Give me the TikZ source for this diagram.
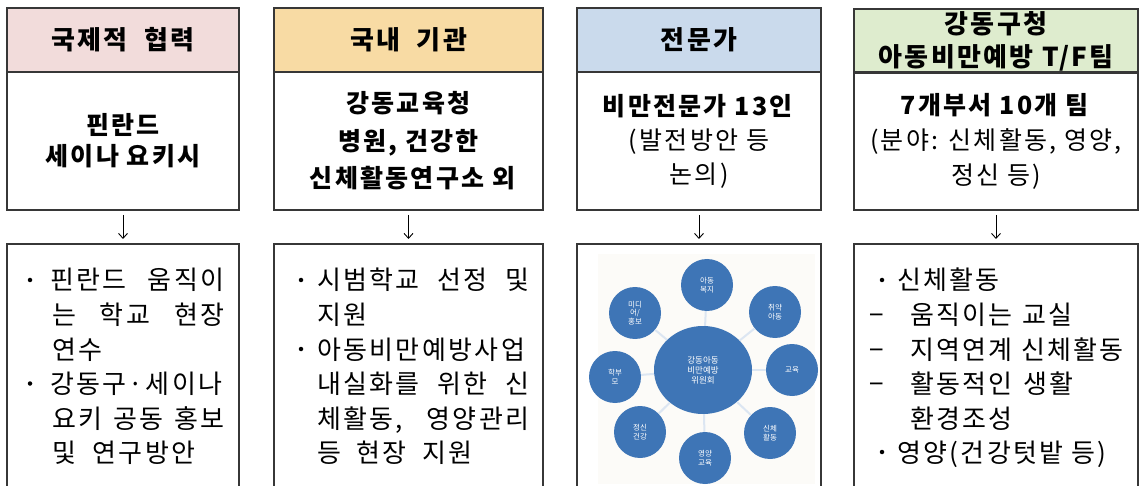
\documentclass[tikz,border=0pt]{standalone}
\usepackage{fontspec}
\setmainfont{Noto Sans CJK KR}[LetterSpace=9]
\usetikzlibrary{arrows.meta,shapes.geometric}
\definecolor{hpink}{RGB}{242,220,219}
\definecolor{htan}{RGB}{248,219,164}
\definecolor{hblue}{RGB}{202,218,236}
\definecolor{hgreen}{RGB}{222,236,206}
\definecolor{cblue}{RGB}{62,117,182}
\definecolor{bord}{RGB}{55,55,55}
\definecolor{cream}{RGB}{252,251,248}
\begin{document}
\begin{tikzpicture}[x=1pt,y=-1pt,
  box/.style={draw=bord,line width=1.1pt,inner sep=0pt,outer sep=0pt,align=center},
  hfont/.style={font=\fontsize{26}{33}\selectfont\bfseries},
  ln/.style={anchor=base west,inner sep=0pt,font=\fontsize{26}{30}\selectfont},
  bul/.style={circle,fill=black,inner sep=0pt,minimum size=4.5pt},
  arr/.style={draw=black,line width=0.9pt,-{Straight Barb[length=5pt,width=9pt]}},
  sat/.style={circle,fill=cblue,minimum size=52pt,inner sep=0pt,text=white,align=center,font=\fontsize{7.5}{8.5}\selectfont\addfontfeatures{LetterSpace=0}},
  spoke/.style={draw=cblue!18,line width=2pt}]
\useasboundingbox (0,0) rectangle (1143,486);
\fill[white] (0,0) rectangle (1143,486);

% headers
\node[box,fill=hpink,minimum width=232pt,minimum height=64pt,hfont] (h1) at (123,40) {국제적 \ 협력};
\node[box,fill=htan,minimum width=269pt,minimum height=64pt,hfont] (h2) at (408.5,40) {국내 \ 기관};
\node[box,fill=hblue,minimum width=244pt,minimum height=64pt,hfont] (h3) at (699,40) {전문가};
\node[box,fill=hgreen,minimum width=284pt,minimum height=64pt,hfont] (h4) at (996,41) {강동구청\\아동비만예방 T/F팀};

% bodies
\node[box,minimum width=232pt,minimum height=138pt,font=\fontsize{25}{31}\selectfont\bfseries] (t1) at (123,141) {핀란드\\세이나 요키시};
\node[box,minimum width=269pt,minimum height=138pt,font=\fontsize{25}{37.5}\selectfont\bfseries] (t2) at (408.5,141) {강동교육청\\병원, 건강한\\\ 신체활동연구소 외};
\node[box,minimum width=244pt,minimum height=138pt,font=\fontsize{25}{34}\selectfont] (t3) at (699,141) {\textbf{비만전문가 13인}\\(발전방안 등\\논의)};
\node[box,minimum width=284pt,minimum height=138pt,font=\fontsize{25}{35}\selectfont] (t4) at (996,141) {\textbf{7개부서 10개 팀}\\(분야: 신체활동, 영양,\\정신 등)};

% lower boxes (open at bottom)
\begin{scope}
\clip (0,0) rectangle (1143,486);
\node[box,anchor=north,minimum width=232pt,minimum height=280pt] (b1) at (123,244) {};
\node[box,anchor=north,minimum width=269pt,minimum height=280pt] (b2) at (408.5,244) {};
\node[box,anchor=north,minimum width=244pt,minimum height=280pt] (b3) at (699,244) {};
\node[box,anchor=north,minimum width=284pt,minimum height=280pt] (b4) at (996,244) {};
\end{scope}

% arrows
\draw[arr] ([yshift=-5pt]t1.south) -- ([yshift=5pt]b1.north);
\draw[arr] ([yshift=-5pt]t2.south) -- ([yshift=5pt]b2.north);
\draw[arr] ([yshift=-5pt]t3.south) -- ([yshift=5pt]b3.north);
\draw[arr] ([yshift=-5pt]t4.south) -- ([yshift=5pt]b4.north);

% column 1 text
\node[bul] (p1a) at (30,280) {};
\node[ln] (l1a) at (50,290) {\makebox[174pt][s]{핀란드 움직이}};
\node[ln] (l1b) at (52,324.5) {\makebox[172pt][s]{는 학교 현장}};
\node[ln] (l1c) at (52,359) {연수};
\node[bul] (p1b) at (30,383.5) {};
\node[ln] (l1d) at (50,393.5) {강동구·세이나};
\node[ln] (l1e) at (52,428) {\makebox[172pt][s]{요키 공동 홍보}};
\node[ln] (l1f) at (52,462.5) {\makebox[143pt][s]{및 연구방안}};

% column 2 text
\node[bul] (p2a) at (301,280) {};
\node[ln] (l2a) at (317,290) {\makebox[212pt][s]{시범학교 선정 및}};
\node[ln] (l2b) at (317,324.5) {지원};
\node[bul] (p2b) at (301,349) {};
\node[ln] (l2c) at (317,359) {아동비만예방사업};
\node[ln] (l2d) at (317,393.5) {\makebox[212pt][s]{내실화를 위한 신}};
\node[ln] (l2e) at (317,428) {\makebox[212pt][s]{체활동, 영양관리}};
\node[ln] (l2f) at (317,462.5) {\makebox[155pt][s]{등 현장 지원}};

% column 4 text
\node[bul] (p4a) at (882,280) {};
\node[ln] (l4a) at (897,290) {신체활동};
\node[ln] (d4a) at (868,324.5) {\makebox[18pt][c]{−}};
\node[ln] (l4b) at (910,324.5) {\makebox[162pt][s]{움직이는 교실}};
\node[ln] (d4b) at (868,359) {\makebox[18pt][c]{−}};
\node[ln] (l4c) at (910,359) {지역연계 신체활동};
\node[ln] (d4c) at (868,393.5) {\makebox[18pt][c]{−}};
\node[ln] (l4d) at (910,393.5) {\makebox[163pt][s]{활동적인 생활}};
\node[ln] (l4e) at (910,428) {환경조성};
\node[bul] (p4b) at (882,452) {};
\node[ln] (l4f) at (897,462.5) {영양(건강텃밭 등)};

% column 3 circle diagram
\fill[cream] (598,254) rectangle (815,484);
\node[ellipse,fill=cblue,minimum width=98pt,minimum height=88pt,inner sep=0pt,text=white,align=center,font=\fontsize{8.5}{10}\selectfont\addfontfeatures{LetterSpace=0}] (cc) at (703,370) {강동아동\\비만예방\\위원회};
\node[sat] (s1) at (707,285) {아동\\복지};
\node[sat] (s2) at (775,312) {취약\\아동};
\node[sat] (s3) at (792,370) {교육};
\node[sat] (s4) at (770,433) {신체\\활동};
\node[sat] (s5) at (705,458) {영양\\교육};
\node[sat] (s6) at (640,432) {정신\\건강};
\node[sat] (s7) at (615,377) {학부\\모};
\node[sat] (s8) at (635,313) {미디\\어/\\홍보};
\foreach \s in {s1,s2,s3,s4,s5,s6,s7,s8} \draw[spoke] (cc) -- (\s);
\end{tikzpicture}
\end{document}
